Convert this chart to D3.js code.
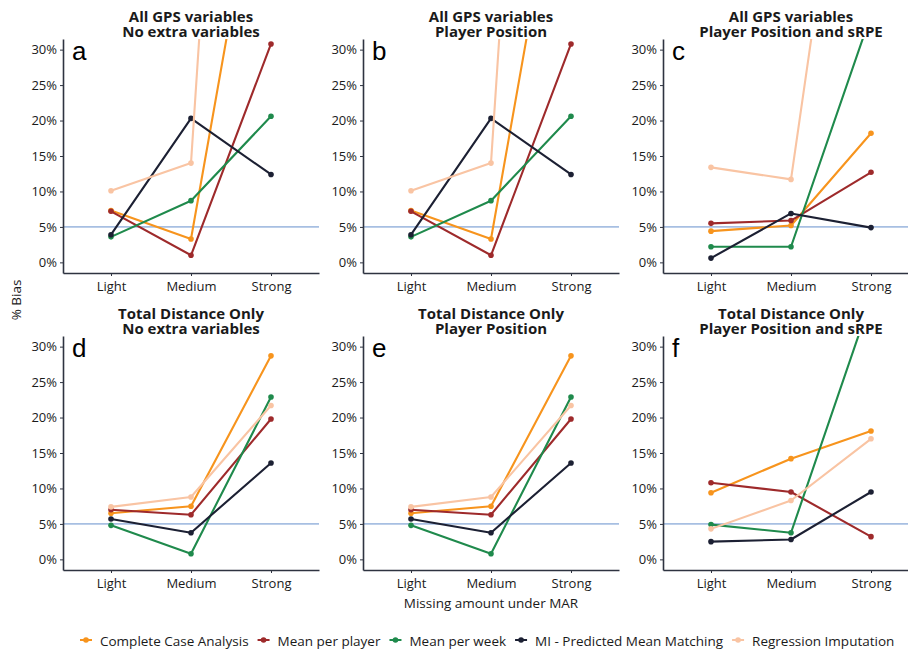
<!DOCTYPE html>
<html>
<head>
<meta charset="utf-8">
<script src="https://cdn.jsdelivr.net/npm/d3@7"></script>
<style>
  html, body { margin: 0; padding: 0; background: #ffffff; }
  svg { display: block; }
</style>
</head>
<body>
<script>
// ---------------- DATA ----------------
const categories = ["Light", "Medium", "Strong"];
const seriesNames = ["Complete Case Analysis", "Mean per player", "Mean per week",
                     "MI - Predicted Mean Matching", "Regression Imputation"];
const seriesColors = ["#F7941D", "#9E2A2B", "#1F8A4C", "#1C2033", "#F9C4A3"];
const yTicks = [0, 5, 10, 15, 20, 25, 30];
const referenceBias = 5;
const panelLetters = ["a", "b", "c", "d", "e", "f"];
const titleLine1 = ["All GPS variables", "All GPS variables", "All GPS variables",
                    "Total Distance Only", "Total Distance Only", "Total Distance Only"];
const titleLine2 = ["No extra variables", "Player Position", "Player Position and sRPE",
                    "No extra variables", "Player Position", "Player Position and sRPE"];

// % bias per series (rows in seriesNames order), columns Light/Medium/Strong
const biasA = [[7.3, 3.3, 67.0], [7.2, 1.0, 30.8], [3.6, 8.7, 20.6], [3.9, 20.3, 12.4], [10.1, 14.0, 185.0]];
const biasB = [[7.3, 3.3, 67.0], [7.2, 1.0, 30.8], [3.6, 8.7, 20.6], [3.9, 20.3, 12.4], [10.1, 14.0, 185.0]];
const biasC = [[4.4, 5.2, 18.2], [5.5, 5.9, 12.7], [2.2, 2.2, 34.9], [0.6, 6.9, 4.9], [13.4, 11.7, 90.0]];
const biasD = [[6.5, 7.5, 28.7], [7.0, 6.3, 19.8], [4.8, 0.8, 22.9], [5.7, 3.75, 13.6], [7.4, 8.8, 21.7]];
const biasE = [[6.5, 7.5, 28.7], [7.0, 6.3, 19.8], [4.8, 0.8, 22.9], [5.7, 3.75, 13.6], [7.4, 8.8, 21.7]];
const biasF = [[9.4, 14.2, 18.1], [10.8, 9.5, 3.2], [4.9, 3.75, 36.7], [2.5, 2.8, 9.5], [4.3, 8.3, 17.0]];
const panelData = [biasA, biasB, biasC, biasD, biasE, biasF];

const xAxisTitle = "Missing amount under MAR";
const yAxisTitle = "% Bias";

// ---------------- LAYOUT ----------------
const W = 908, H = 649;
const colX0 = [63, 363, 663];
const panelW = 256;
const rowTop = [39, 336];
const panelH = 234;
const FONT = "'Open Sans', 'DejaVu Sans', sans-serif";
const axisColor = "#2E3340";
const textColor = "#1a1a1a";

const svg = d3.select("body").append("svg")
  .attr("width", W).attr("height", H)
  .style("font-family", FONT);

const defs = svg.append("defs");

panelData.forEach((data, i) => {
  const col = i % 3, row = Math.floor(i / 3);
  const x0 = colX0[col], top = rowTop[row];

  const x = d3.scalePoint().domain(categories).range([x0, x0 + panelW]).padding(0.6);
  const y = d3.scaleLinear().domain([-1.5, 31.5]).range([top + panelH, top]);

  const clipId = "clip" + i;
  defs.append("clipPath").attr("id", clipId)
    .append("rect").attr("x", x0).attr("y", top).attr("width", panelW).attr("height", panelH);

  const g = svg.append("g");

  // reference line
  g.append("line")
    .attr("x1", x0).attr("x2", x0 + panelW)
    .attr("y1", y(referenceBias)).attr("y2", y(referenceBias))
    .attr("stroke", "#A7BFE2").attr("stroke-width", 1.8);

  // series
  const plot = g.append("g").attr("clip-path", `url(#${clipId})`);
  const line = d3.line().x((d, k) => x(categories[k])).y(d => y(d));
  data.forEach((vals, s) => {
    plot.append("path")
      .attr("d", line(vals))
      .attr("fill", "none")
      .attr("stroke", seriesColors[s])
      .attr("stroke-width", 2.1)
      .attr("stroke-linejoin", "round");
    plot.selectAll(null).data(vals).enter().append("circle")
      .attr("cx", (d, k) => x(categories[k]))
      .attr("cy", d => y(d))
      .attr("r", 2.8)
      .attr("fill", seriesColors[s]);
  });

  // axes
  const yAxis = g.append("g").attr("transform", `translate(${x0},0)`)
    .call(d3.axisLeft(y).tickValues(yTicks).tickFormat(d => d + "%").tickSize(3).tickSizeOuter(0).tickPadding(3));
  const xAxis = g.append("g").attr("transform", `translate(0,${top + panelH})`)
    .call(d3.axisBottom(x).tickSize(3).tickSizeOuter(0).tickPadding(6));
  [yAxis, xAxis].forEach(ax => {
    ax.select(".domain").attr("stroke", axisColor).attr("stroke-width", 1.6);
    ax.selectAll(".tick line").attr("stroke", axisColor).attr("stroke-width", 1);
    ax.selectAll(".tick text").attr("fill", textColor)
      .style("font-size", "13px").style("font-family", FONT);
  });

  // two-line title
  const cx = x0 + panelW / 2;
  const title = g.append("text").attr("x", cx).attr("y", top - 17.5)
    .attr("text-anchor", "middle").attr("fill", textColor)
    .style("font-size", "15px").style("font-weight", "bold");
  title.append("tspan").attr("x", cx).text(titleLine1[i]);
  title.append("tspan").attr("x", cx).attr("dy", 15).text(titleLine2[i]);

  // panel letter
  g.append("text").attr("x", x0 + 9).attr("y", top + 21)
    .attr("fill", "#000").style("font-family", "'Liberation Sans', Arial, sans-serif")
    .style("font-size", "26px").text(panelLetters[i]);
});

// axis titles
svg.append("text").attr("x", 491).attr("y", 608)
  .attr("text-anchor", "middle").attr("fill", textColor)
  .style("font-size", "13.5px").text(xAxisTitle);
svg.append("text")
  .attr("transform", "translate(21,300) rotate(-90)")
  .attr("text-anchor", "middle").attr("fill", textColor)
  .style("font-size", "13.5px").text(yAxisTitle);

// legend
const legend = svg.append("g");
let cursor = 86;
seriesNames.forEach((name, s) => {
  const item = legend.append("g");
  item.append("line").attr("x1", cursor - 6).attr("x2", cursor + 6)
    .attr("y1", 640).attr("y2", 640)
    .attr("stroke", seriesColors[s]).attr("stroke-width", 2);
  item.append("circle").attr("cx", cursor).attr("cy", 640).attr("r", 2.8).attr("fill", seriesColors[s]);
  const t = item.append("text").attr("x", cursor + 14).attr("y", 645.5)
    .attr("fill", textColor).style("font-size", "13.5px").text(name);
  const w = t.node().getComputedTextLength();
  cursor = cursor + 14 + w + 15;
});
</script>
</body>
</html>
